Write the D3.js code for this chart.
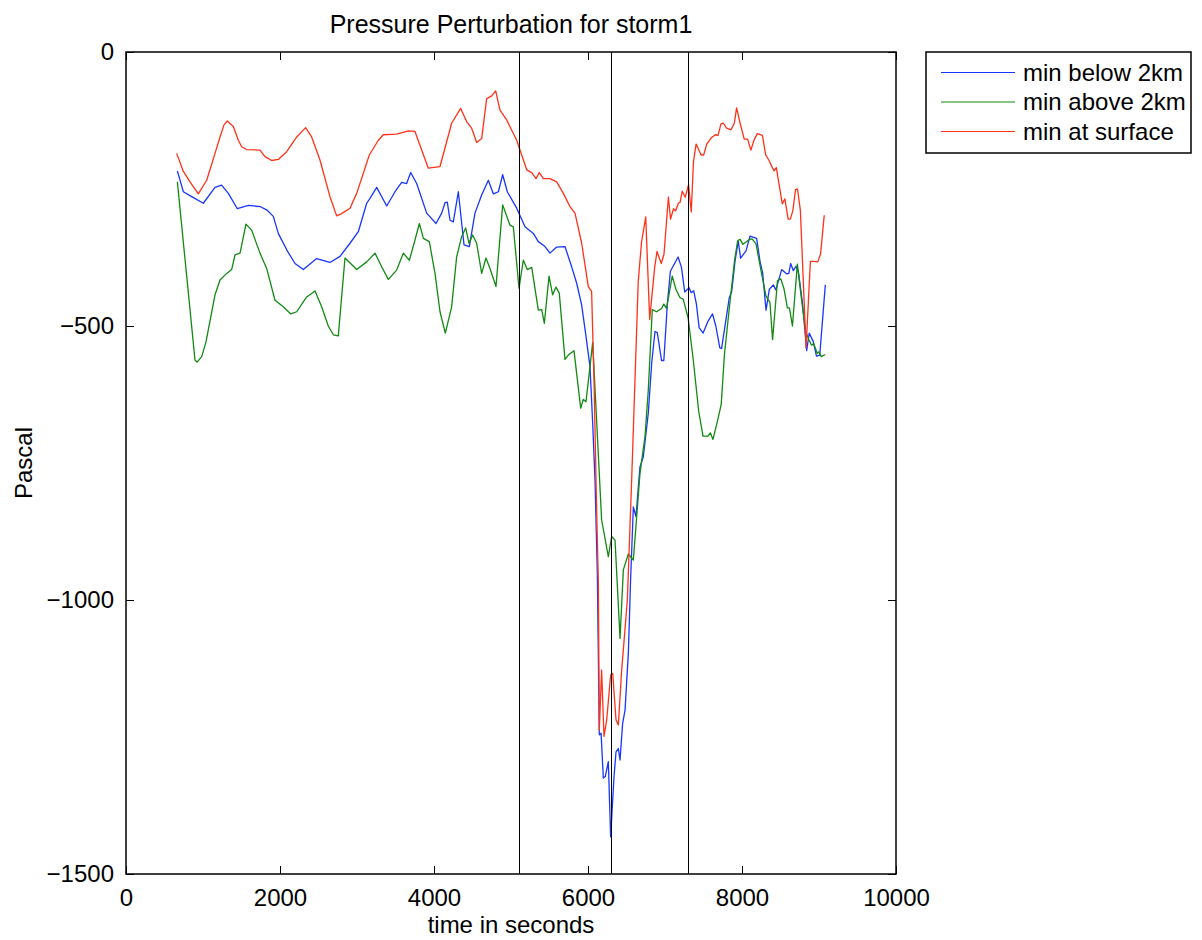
<!DOCTYPE html>
<html>
<head>
<meta charset="utf-8">
<script src="https://cdn.jsdelivr.net/npm/d3@7"></script>
<style>
    body { margin: 0; background: #fff; }
    text { font-family: "Liberation Sans", Arial, Helvetica, sans-serif; }
</style>
</head>
<body>
<svg id="chart"></svg>
<script>
/**
 * Size of the whole picture.
 */
const width = 1202;
const height = 940;

/**
 * Plot box (pixels), matches the MATLAB style axes.
 */
const margin = {top: 52, right: 306, bottom: 66, left: 126};

// ----------------------------------------------------------------------------
// data (time in seconds, pressure in Pascal)
// ----------------------------------------------------------------------------

const seriesNames = ["min below 2km", "min above 2km", "min at surface"];
const seriesColors = ["#1836ff", "#128a12", "#ff3219"];

const belowTimes = [667, 745, 853, 1004, 1156, 1242, 1329, 1446, 1589, 1740, 1827, 1913, 1978, 2087,
    2195, 2303, 2476, 2649, 2779, 2909, 3017, 3126, 3169, 3256, 3386, 3494, 3580, 3645, 3697, 3775,
    3905, 4026, 4100, 4143, 4173, 4208, 4251, 4316, 4390, 4459, 4532, 4619, 4706, 4771, 4836, 4892,
    4952, 5074, 5182, 5290, 5355, 5442, 5506, 5593, 5701, 5788, 5853, 5918, 5974, 6026, 6061, 6091,
    6121, 6147, 6170, 6199, 6225, 6264, 6294, 6338, 6364, 6394, 6416, 6450, 6481, 6524, 6554, 6589,
    6623, 6675, 6718, 6783, 6827, 6870, 6900, 6955, 6985, 7030, 7070, 7128, 7170, 7214, 7256, 7313,
    7338, 7373, 7408, 7443, 7495, 7560, 7617, 7660, 7712, 7735, 7777, 7834, 7866, 7909, 7951, 7982,
    8052, 8104, 8190, 8234, 8268, 8312, 8355, 8407, 8440, 8515, 8581, 8608, 8632, 8667, 8702, 8731,
    8787, 8840, 8873, 8925, 8967, 9010, 9082];
const belowValues = [-217, -255, -264, -276, -247, -243, -258, -286, -280, -282, -288, -300, -331, -361,
    -386, -397, -377, -384, -373, -349, -328, -276, -267, -247, -281, -255, -238, -240, -220, -240,
    -294, -313, -294, -275, -274, -307, -310, -255, -352, -355, -294, -261, -234, -259, -255, -224,
    -255, -285, -319, -331, -346, -355, -367, -356, -355, -392, -422, -462, -519, -574, -678, -781,
    -950, -1246, -1243, -1325, -1322, -1295, -1432, -1322, -1277, -1271, -1292, -1225, -1201, -1097, -960, -830,
    -848, -757, -739, -659, -568, -510, -512, -563, -563, -461, -400, -385, -374, -393, -438, -430,
    -439, -436, -460, -503, -513, -491, -478, -500, -540, -541, -502, -449, -437, -382, -345, -376,
    -363, -336, -340, -382, -403, -471, -433, -425, -434, -397, -405, -404, -386, -399, -391, -400,
    -460, -545, -513, -528, -555, -553, -425];

const aboveTimes = [667, 896, 922, 983, 1039, 1156, 1221, 1308, 1372, 1416, 1481, 1558, 1632, 1740,
    1827, 1935, 2043, 2139, 2217, 2346, 2455, 2541, 2627, 2693, 2757, 2844, 2996, 3126, 3234, 3320,
    3407, 3515, 3602, 3680, 3753, 3810, 3862, 3939, 4013, 4078, 4147, 4229, 4294, 4359, 4411, 4455,
    4502, 4554, 4619, 4675, 4727, 4805, 4892, 4987, 5030, 5104, 5160, 5212, 5269, 5355, 5399, 5433,
    5494, 5541, 5584, 5627, 5701, 5744, 5818, 5905, 5939, 5974, 6061, 6177, 6264, 6307, 6351, 6416,
    6459, 6524, 6589, 6675, 6740, 6783, 6835, 6890, 6955, 6985, 7020, 7094, 7142, 7193, 7236, 7300,
    7364, 7438, 7494, 7558, 7589, 7623, 7687, 7730, 7772, 7846, 7903, 7944, 7976, 8011, 8097, 8131,
    8182, 8247, 8311, 8363, 8397, 8461, 8504, 8547, 8589, 8616, 8655, 8719, 8775, 8827, 8869, 8904,
    8930, 8978, 9000, 9030, 9080];
const aboveValues = [-237, -562, -566, -556, -529, -443, -416, -404, -397, -370, -367, -314, -325, -367,
    -395, -453, -465, -478, -474, -447, -436, -465, -500, -516, -518, -376, -397, -383, -367, -392,
    -415, -398, -367, -380, -343, -313, -340, -346, -404, -474, -513, -465, -374, -337, -321, -349,
    -334, -349, -404, -376, -395, -428, -279, -316, -319, -431, -380, -397, -393, -471, -470, -495,
    -409, -443, -429, -440, -561, -553, -545, -650, -634, -638, -530, -854, -921, -884, -891, -1070,
    -945, -916, -927, -769, -702, -617, -470, -474, -468, -460, -468, -409, -433, -448, -451, -485,
    -558, -656, -701, -701, -695, -707, -670, -643, -552, -453, -381, -344, -342, -351, -342, -341,
    -350, -399, -445, -457, -525, -417, -414, -433, -467, -467, -500, -387, -454, -510, -525, -535,
    -532, -550, -547, -556, -552];

const surfaceTimes = [658, 745, 831, 939, 1048, 1156, 1221, 1273, 1316, 1394, 1459, 1502, 1567, 1740,
    1805, 1892, 1978, 2087, 2217, 2333, 2411, 2519, 2649, 2736, 2800, 2909, 2996, 3160, 3277, 3342,
    3515, 3667, 3753, 3840, 3926, 4078, 4229, 4346, 4424, 4489, 4554, 4619, 4684, 4749, 4801, 4857,
    4944, 5074, 5204, 5269, 5325, 5368, 5420, 5506, 5593, 5680, 5766, 5831, 5918, 6004, 6047, 6078,
    6113, 6134, 6147, 6177, 6208, 6243, 6294, 6321, 6364, 6394, 6437, 6459, 6511, 6567, 6610, 6652,
    6695, 6750, 6801, 6866, 6896, 6952, 6987, 7044, 7072, 7111, 7138, 7173, 7197, 7224, 7263, 7306,
    7341, 7370, 7404, 7469, 7502, 7542, 7598, 7654, 7689, 7727, 7758, 7800, 7857, 7900, 7930, 7986,
    8029, 8073, 8115, 8158, 8200, 8265, 8308, 8351, 8394, 8417, 8446, 8480, 8523, 8557, 8599, 8628,
    8661, 8695, 8721, 8758, 8832, 8888, 8932, 8984, 9020, 9045, 9068];
const surfaceValues = [-185, -218, -237, -259, -234, -185, -155, -133, -126, -136, -161, -173, -178, -179,
    -191, -198, -196, -182, -155, -138, -155, -197, -264, -299, -295, -285, -258, -188, -161, -151,
    -150, -144, -145, -179, -212, -209, -130, -103, -127, -139, -165, -158, -85, -80, -71, -106,
    -124, -161, -215, -220, -231, -220, -231, -231, -237, -258, -282, -294, -349, -428, -437, -599,
    -842, -964, -1237, -1128, -1249, -1219, -1137, -1134, -1219, -1228, -1128, -1091, -1000, -781, -599, -420,
    -347, -301, -488, -393, -364, -386, -369, -265, -305, -286, -290, -276, -274, -254, -265, -242,
    -292, -200, -168, -188, -188, -168, -157, -151, -152, -131, -130, -139, -142, -130, -102, -136,
    -159, -159, -179, -160, -149, -152, -188, -198, -211, -217, -211, -240, -277, -268, -305, -305,
    -289, -251, -250, -289, -540, -382, -382, -383, -369, -332, -298];

const seriesTimes = [belowTimes, aboveTimes, surfaceTimes];
const seriesValues = [belowValues, aboveValues, surfaceValues];

/**
 * Times of the three vertical marker lines.
 */
const markerTimes = [5100, 6300, 7300];

const xTicks = [0, 2000, 4000, 6000, 8000, 10000];
const yTicks = [0, -500, -1000, -1500];

const chartTitle = "Pressure Perturbation for storm1";
const xLabel = "time in seconds";
const yLabel = "Pascal";

// ----------------------------------------------------------------------------
// ----------------------------------------------------------------------------

const svg = d3.select("#chart")
    .attr("width", width)
    .attr("height", height);

const plotW = width - margin.left - margin.right;
const plotH = height - margin.top - margin.bottom;

const x = d3.scaleLinear().domain([0, 10000]).range([margin.left, margin.left + plotW]);
const y = d3.scaleLinear().domain([-1500, 0]).range([margin.top + plotH, margin.top]);

/**
 * Draws the four MATLAB style axes, ticks pointing inward.
 */
function drawAxes() {
    const fmt = d3.format("d");
    const fontSize = 24;

    const bottom = svg.append("g")
        .attr("transform", `translate(0,${margin.top + plotH})`)
        .call(d3.axisBottom(x).tickValues(xTicks).tickFormat(fmt)
            .tickSizeInner(-8).tickSizeOuter(0).tickPadding(15));
    const left = svg.append("g")
        .attr("transform", `translate(${margin.left},0)`)
        .call(d3.axisLeft(y).tickValues(yTicks).tickFormat(fmt)
            .tickSizeInner(-8).tickSizeOuter(0).tickPadding(12));
    const top = svg.append("g")
        .attr("transform", `translate(0,${margin.top})`)
        .call(d3.axisTop(x).tickValues(xTicks).tickFormat("")
            .tickSizeInner(-8).tickSizeOuter(0));
    const right = svg.append("g")
        .attr("transform", `translate(${margin.left + plotW},0)`)
        .call(d3.axisRight(y).tickValues(yTicks).tickFormat("")
            .tickSizeInner(-8).tickSizeOuter(0));

    [bottom, left, top, right].forEach(g => {
        g.select(".domain").remove();
        g.selectAll(".tick line").attr("stroke", "#000").attr("stroke-width", 1);
        g.selectAll(".tick text")
            .attr("fill", "#000")
            .style("font-size", fontSize + "px")
            .style("font-family", "'Liberation Sans', Arial, sans-serif");
    });

    // box round the plot
    svg.append("rect")
        .attr("x", margin.left)
        .attr("y", margin.top)
        .attr("width", plotW)
        .attr("height", plotH)
        .attr("fill", "none")
        .attr("stroke", "#000")
        .attr("stroke-width", 1.5);

    // title and labels
    svg.append("text")
        .attr("x", margin.left + plotW / 2)
        .attr("y", 33)
        .attr("text-anchor", "middle")
        .style("font-size", "25px")
        .text(chartTitle);

    svg.append("text")
        .attr("x", margin.left + plotW / 2)
        .attr("y", 933)
        .attr("text-anchor", "middle")
        .style("font-size", "24px")
        .text(xLabel);

    svg.append("text")
        .attr("transform", `translate(32,${margin.top + plotH / 2}) rotate(-90)`)
        .attr("text-anchor", "middle")
        .style("font-size", "24px")
        .text(yLabel);
}

/**
 * Draws the three series and the vertical marker lines.
 */
function drawLines() {
    const line = d3.line()
        .x(d => x(d[0]))
        .y(d => y(d[1]));

    seriesTimes.forEach((times, i) => {
        const pts = times.map((t, j) => [t, seriesValues[i][j]]);
        svg.append("path")
            .datum(pts)
            .attr("d", line)
            .attr("fill", "none")
            .attr("stroke", seriesColors[i])
            .attr("stroke-width", 1.3)
            .attr("stroke-linejoin", "round");
    });

    svg.selectAll(".marker")
        .data(markerTimes)
        .join("line")
        .attr("class", "marker")
        .attr("x1", d => Math.round(x(d)) + 0.5)
        .attr("x2", d => Math.round(x(d)) + 0.5)
        .attr("y1", margin.top)
        .attr("y2", margin.top + plotH)
        .attr("stroke", "#000")
        .attr("stroke-width", 1);
}

/**
 * Legend box to the right of the plot.
 */
function drawLegend() {
    const lx = 926, ly = 52, lw = 265, lh = 101;
    const g = svg.append("g");
    g.append("rect")
        .attr("x", lx).attr("y", ly)
        .attr("width", lw).attr("height", lh)
        .attr("fill", "#fff")
        .attr("stroke", "#000")
        .attr("stroke-width", 1.5);

    seriesNames.forEach((name, i) => {
        const cy = 72.5 + i * 29.5;
        g.append("line")
            .attr("x1", 941).attr("x2", 1015)
            .attr("y1", cy).attr("y2", cy)
            .attr("stroke", seriesColors[i])
            .attr("stroke-width", 1.2);
        g.append("text")
            .attr("x", 1023)
            .attr("y", cy + 8)
            .style("font-size", "24px")
            .text(name);
    });
}

function main() {
    drawLines();
    drawAxes();
    drawLegend();
}

main();
</script>
</body>
</html>
